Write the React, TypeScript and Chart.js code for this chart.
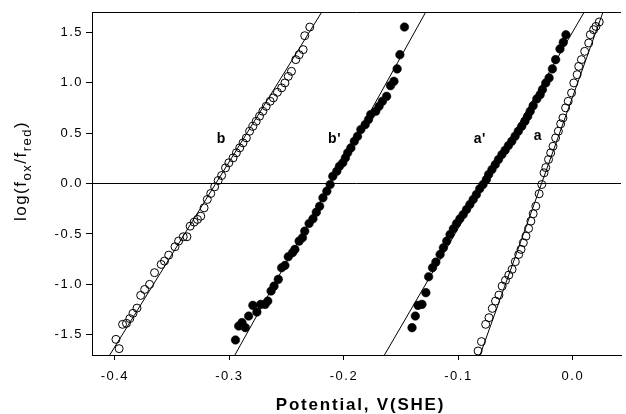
import React, { useEffect, useRef } from 'react';
import { Chart, registerables } from 'chart.js';

Chart.register(...registerables);

const FONT = '"Liberation Sans", Arial, Helvetica, sans-serif';

const xTicks = [-0.4, -0.3, -0.2, -0.1, 0.0];
const yTicks = [-1.5, -1.0, -0.5, 0.0, 0.5, 1.0, 1.5];
const xMin = -0.42;
const xMax = 0.042;
const yMin = -1.7;
const yMax = 1.7;

// series b (open circles)
const bX = [-0.3991, -0.3963, -0.3933, -0.3899, -0.3870, -0.3842, -0.3807, -0.3775, -0.3740, -0.3697,
  -0.3654, -0.3596, -0.3567, -0.3530, -0.3475, -0.3444, -0.3403, -0.3371, -0.3343, -0.3308,
  -0.3279, -0.3250, -0.3221, -0.3193, -0.3163, -0.3129, -0.3098, -0.3068, -0.3034, -0.3005,
  -0.2968, -0.2939, -0.2910, -0.2881, -0.2852, -0.2824, -0.2795, -0.2766, -0.2737, -0.2708,
  -0.2679, -0.2644, -0.2616, -0.2581, -0.2544, -0.2515, -0.2486, -0.2458, -0.2420, -0.2391,
  -0.2356, -0.2342, -0.2298];
const bY = [-1.545, -1.637, -1.396, -1.386, -1.339, -1.287, -1.235, -1.109, -1.050, -1.000,
  -0.884, -0.802, -0.769, -0.710, -0.627, -0.571, -0.528, -0.528, -0.423, -0.383,
  -0.356, -0.324, -0.241, -0.158, -0.099, -0.033, 0.030, 0.079, 0.155, 0.205,
  0.254, 0.304, 0.353, 0.403, 0.452, 0.518, 0.567, 0.617, 0.667, 0.716,
  0.765, 0.815, 0.849, 0.904, 0.948, 0.997, 1.062, 1.112, 1.228, 1.277,
  1.327, 1.465, 1.551];

// series b' (filled circles)
const bpX = [-0.2947, -0.2919, -0.2890, -0.2861, -0.2832, -0.2795, -0.2760, -0.2726, -0.2688, -0.2665,
  -0.2636, -0.2610, -0.2573, -0.2544, -0.2515, -0.2486, -0.2449, -0.2428, -0.2391, -0.2362,
  -0.2342, -0.2304, -0.2270, -0.2241, -0.2212, -0.2183, -0.2149, -0.2120, -0.2097, -0.2062,
  -0.2039, -0.2010, -0.1987, -0.1967, -0.1939, -0.1909, -0.1881, -0.1852, -0.1814, -0.1785,
  -0.1766, -0.1722, -0.1693, -0.1664, -0.1627, -0.1593, -0.1563, -0.1535, -0.1511, -0.1471];
const bpY = [-1.551, -1.413, -1.379, -1.429, -1.314, -1.208, -1.274, -1.198, -1.198, -1.165,
  -1.066, -1.017, -0.950, -0.835, -0.812, -0.726, -0.686, -0.653, -0.571, -0.538,
  -0.472, -0.396, -0.350, -0.284, -0.225, -0.142, -0.076, -0.010, 0.072, 0.122,
  0.171, 0.205, 0.254, 0.304, 0.353, 0.419, 0.468, 0.535, 0.584, 0.634,
  0.683, 0.716, 0.765, 0.815, 0.864, 0.970, 1.013, 1.136, 1.277, 1.551];

// series a' (filled circles)
const apX = [-0.1405, -0.1376, -0.1353, -0.1318, -0.1284, -0.1260, -0.1226, -0.1197, -0.1160, -0.1131,
  -0.1102, -0.1073, -0.1044, -0.1016, -0.0987, -0.0958, -0.0929, -0.0900, -0.0871, -0.0843,
  -0.0814, -0.0785, -0.0756, -0.0736, -0.0707, -0.0678, -0.0650, -0.0620, -0.0592, -0.0563,
  -0.0534, -0.0505, -0.0477, -0.0447, -0.0419, -0.0395, -0.0373, -0.0347, -0.0315, -0.0286,
  -0.0266, -0.0237, -0.0208, -0.0179, -0.0151, -0.0113, -0.0084, -0.0061];
const apY = [-1.429, -1.314, -1.208, -1.198, -1.082, -0.924, -0.835, -0.779, -0.703, -0.637,
  -0.571, -0.505, -0.449, -0.396, -0.350, -0.307, -0.257, -0.208, -0.158, -0.109,
  -0.052, -0.010, 0.040, 0.089, 0.139, 0.188, 0.238, 0.287, 0.330, 0.376,
  0.419, 0.468, 0.518, 0.567, 0.617, 0.666, 0.716, 0.772, 0.839, 0.881,
  0.931, 0.997, 1.047, 1.136, 1.228, 1.334, 1.399, 1.475];

// series a (open circles)
const aX = [-0.0828, -0.0799, -0.0762, -0.0733, -0.0704, -0.0676, -0.0646, -0.0618, -0.0589, -0.0560,
  -0.0531, -0.0503, -0.0473, -0.0453, -0.0433, -0.0410, -0.0387, -0.0367, -0.0347, -0.0324,
  -0.0295, -0.0272, -0.0252, -0.0237, -0.0213, -0.0194, -0.0174, -0.0151, -0.0127, -0.0107,
  -0.0087, -0.0064, -0.0041, -0.0012, 0.0008, 0.0037, 0.0051, 0.0074, 0.0103, 0.0138,
  0.0152, 0.0181, 0.0201, 0.0230];
const aY = [-1.660, -1.567, -1.396, -1.330, -1.238, -1.165, -1.106, -1.017, -0.960, -0.908,
  -0.851, -0.775, -0.703, -0.653, -0.587, -0.522, -0.446, -0.373, -0.300, -0.225,
  -0.102, -0.010, 0.106, 0.158, 0.238, 0.304, 0.369, 0.452, 0.518, 0.591,
  0.650, 0.750, 0.815, 0.898, 0.997, 1.079, 1.161, 1.228, 1.310, 1.393,
  1.475, 1.525, 1.557, 1.601];

// fitted lines (endpoints)
const fitBX = [-0.4045, -0.2193];
const fitBpX = [-0.2952, -0.1285];
const fitApX = [-0.1646, 0.0099];
const fitAX = [-0.0811, 0.0263];
const fitY = [-1.7, 1.7];
const zeroX = [xMin, xMax];
const zeroY = [0, 0];

// curve labels
const labelTexts = ['b', "b'", "a'", 'a'];
const labelX = [-0.3072, -0.2082, -0.0814, -0.0306];
const labelY = [0.44, 0.44, 0.44, 0.47];

const xTitle = 'Potential, V(SHE)';

const pts = (xs: number[], ys: number[]) => xs.map((x, i) => ({ x, y: ys[i] }));

const lineDs = (xs: number[], ys: number[]) => ({
  data: pts(xs, ys),
  showLine: true,
  borderColor: '#000',
  borderWidth: 1,
  pointRadius: 0,
  fill: false,
});

const openDs = (xs: number[], ys: number[]) => ({
  data: pts(xs, ys),
  showLine: false,
  pointStyle: 'circle',
  pointRadius: 4,
  pointBorderWidth: 1,
  pointBorderColor: '#000',
  pointBackgroundColor: 'rgba(0,0,0,0)',
});

const filledDs = (xs: number[], ys: number[]) => ({
  data: pts(xs, ys),
  showLine: false,
  pointStyle: 'circle',
  pointRadius: 4.3,
  pointBorderWidth: 0.5,
  pointBorderColor: '#000',
  pointBackgroundColor: '#000',
});

const decorPlugin = {
  id: 'decor',
  beforeDraw(chart: any) {
    chart.ctx.letterSpacing = '1.5px';
  },
  afterDatasetsDraw(chart: any) {
    const { ctx, chartArea, scales } = chart;
    ctx.save();
    ctx.letterSpacing = '0.5px';
    ctx.strokeStyle = '#000';
    ctx.lineWidth = 1;
    ctx.beginPath();
    ctx.moveTo(chartArea.left, chartArea.top + 0.5);
    ctx.lineTo(chartArea.right, chartArea.top + 0.5);
    ctx.stroke();
    ctx.font = 'bold 14px ' + FONT;
    ctx.fillStyle = '#000';
    ctx.textAlign = 'center';
    ctx.textBaseline = 'middle';
    labelTexts.forEach((t, i) => {
      ctx.fillText(t, scales.x.getPixelForValue(labelX[i]), scales.y.getPixelForValue(labelY[i]));
    });
    ctx.restore();
  },
  afterDraw(chart: any) {
    const { ctx, chartArea } = chart;
    ctx.save();
    ctx.fillStyle = '#000';
    // x title
    ctx.letterSpacing = '1.8px';
    ctx.font = 'bold 17px ' + FONT;
    ctx.textAlign = 'center';
    ctx.textBaseline = 'alphabetic';
    ctx.fillText(xTitle, (chartArea.left + chartArea.right) / 2 + 4, 410);
    // y title with subscripts
    ctx.letterSpacing = '1.5px';
    ctx.textAlign = 'left';
    const parts = [
      { t: 'log(f', sub: false },
      { t: 'ox', sub: true },
      { t: '/f', sub: false },
      { t: 'red', sub: true },
      { t: ')', sub: false },
    ];
    const mainFont = '17px ' + FONT;
    const subFont = '13px ' + FONT;
    let total = 0;
    parts.forEach((p) => {
      ctx.font = p.sub ? subFont : mainFont;
      total += ctx.measureText(p.t).width;
    });
    ctx.translate(26, 171);
    ctx.rotate(-Math.PI / 2);
    let x = -total / 2;
    parts.forEach((p) => {
      ctx.font = p.sub ? subFont : mainFont;
      ctx.fillText(p.t, x, p.sub ? 5 : 0);
      x += ctx.measureText(p.t).width;
    });
    ctx.restore();
    ctx.letterSpacing = '0px';
  },
};

export default function App() {
  const ref = useRef<HTMLCanvasElement | null>(null);
  useEffect(() => {
    if (!ref.current) return;
    const chart = new Chart(ref.current, {
      type: 'scatter',
      data: {
        datasets: [
          lineDs(zeroX, zeroY),
          lineDs(fitBX, fitY),
          lineDs(fitBpX, fitY),
          lineDs(fitApX, fitY),
          lineDs(fitAX, fitY),
          openDs(bX, bY),
          filledDs(bpX, bpY),
          filledDs(apX, apY),
          openDs(aX, aY),
        ] as any,
      },
      options: {
        animation: false,
        responsive: false,
        events: [],
        layout: { padding: { top: 12, right: 0, left: 0, bottom: 0 } },
        plugins: {
          legend: { display: false },
          tooltip: { enabled: false },
          title: { display: false },
        },
        scales: {
          x: {
            type: 'linear',
            min: xMin,
            max: xMax,
            afterBuildTicks: (s: any) => {
              s.ticks = xTicks.map((v) => ({ value: v }));
            },
            afterFit: (s: any) => {
              s.height = 59;
            },
            ticks: {
              autoSkip: false,
              maxRotation: 0,
              padding: 9,
              color: '#000',
              font: { family: FONT, size: 13 },
              callback: (v: any) => Number(v).toFixed(1),
            },
            grid: { display: true, drawOnChartArea: false, drawTicks: true, tickLength: 5, color: '#000' },
            border: { display: true, color: '#000', width: 1 },
          },
          y: {
            type: 'linear',
            min: yMin,
            max: yMax,
            afterBuildTicks: (s: any) => {
              s.ticks = yTicks.map((v) => ({ value: v }));
            },
            afterFit: (s: any) => {
              s.width = 92;
            },
            ticks: {
              autoSkip: false,
              padding: 3,
              color: '#000',
              font: { family: FONT, size: 13 },
              callback: (v: any) => Number(v).toFixed(1),
            },
            grid: { display: true, drawOnChartArea: false, drawTicks: true, tickLength: 6, color: '#000' },
            border: { display: true, color: '#000', width: 1 },
          },
        },
      } as any,
      plugins: [decorPlugin],
    });
    return () => chart.destroy();
  }, []);
  return (
    <div style={{ position: 'fixed', left: 0, top: 0, width: 626, height: 414, background: '#fff' }}>
      <canvas ref={ref} width={626} height={414} style={{ display: 'block', width: 626, height: 414 }} />
    </div>
  );
}
